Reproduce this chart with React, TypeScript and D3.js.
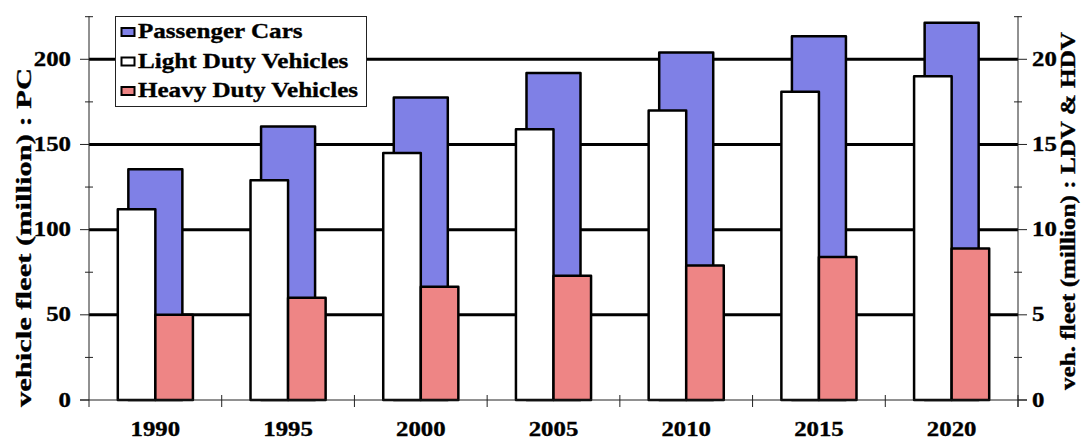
import React from 'react';
import * as d3 from 'd3';

const years = ['1990', '1995', '2000', '2005', '2010', '2015', '2020'];
const passengerCars = [135.5, 160.5, 177.5, 192, 204, 213.5, 221.5];
const lightDuty = [11.2, 12.9, 14.5, 15.9, 17, 18.1, 19];
const heavyDuty = [5, 6, 6.65, 7.3, 7.9, 8.4, 8.9];
const leftTicks = [0, 50, 100, 150, 200];
const leftMinor = [25, 75, 125, 175, 225];
const rightTicks = [0, 5, 10, 15, 20];
const rightMinor = [2.5, 7.5, 12.5, 17.5, 22.5];
const legendItems = ['Passenger Cars', 'Light Duty Vehicles', 'Heavy Duty Vehicles'];

const W = 1083, H = 439;
const X0 = 89, X1 = 1018, Y0 = 400, YT = 16.7;
const BLUE = '#7f80e6';
const RED = '#ee8585';
const FONT = "Liberation Serif, Times New Roman, serif";

export default function App() {
  const x = d3.scaleBand<string>().domain(years).range([X0, X1]).padding(0);
  const yL = d3.scaleLinear().domain([0, 225]).range([Y0, YT]);
  const yR = d3.scaleLinear().domain([0, 22.5]).range([Y0, YT]);
  const bw = x.bandwidth();
  const blueW = bw * 0.407;
  const subW = bw * 0.283;
  const colors = [BLUE, '#ffffff', RED];
  const ts: React.CSSProperties = { fontFamily: FONT, fontWeight: 700, stroke: '#000', strokeWidth: 0.35 };

  return (
    <svg width={W} height={H} style={{ position: 'absolute', left: 0, top: 0, background: '#fff' }}>
      <rect x={0} y={0} width={W} height={H} fill="#fff" />
      {leftTicks.filter(t => t > 0).map(t => (
        <line key={'g' + t} x1={X0} x2={X1} y1={yL(t)} y2={yL(t)} stroke="#000" strokeWidth={3} />
      ))}
      {years.map((yr, i) => {
        const cx = x(yr)! + bw / 2;
        return (
          <rect key={'pc' + yr} x={cx - blueW / 2} y={yL(passengerCars[i])} width={blueW}
            height={Y0 - yL(passengerCars[i])} fill={BLUE} stroke="#000" strokeWidth={2.5} strokeLinejoin="round" />
        );
      })}
      {years.map((yr, i) => {
        const cx = x(yr)! + bw / 2;
        return (
          <g key={'sec' + yr}>
            <rect x={cx - subW} y={yR(lightDuty[i])} width={subW} height={Y0 - yR(lightDuty[i])}
              fill="#fff" stroke="#000" strokeWidth={2.5} strokeLinejoin="round" />
            <rect x={cx} y={yR(heavyDuty[i])} width={subW} height={Y0 - yR(heavyDuty[i])}
              fill={RED} stroke="#000" strokeWidth={2.5} strokeLinejoin="round" />
          </g>
        );
      })}
      <line x1={X0} x2={X0} y1={YT - 0.5} y2={Y0 + 7} stroke="#222" strokeWidth={1} />
      <line x1={X1} x2={X1} y1={YT - 0.5} y2={Y0 + 7} stroke="#222" strokeWidth={1} />
      <line x1={X0 - 9} x2={X1 + 9} y1={Y0} y2={Y0} stroke="#222" strokeWidth={1} />
      {years.map((yr) => (
        <line key={'xt' + yr} x1={x(yr)! + bw} x2={x(yr)! + bw} y1={Y0 - 5} y2={Y0 + 7} stroke="#222" strokeWidth={1} />
      ))}
      {leftTicks.map(t => (
        <line key={'lt' + t} x1={X0 - 9} x2={X0} y1={yL(t)} y2={yL(t)} stroke="#222" strokeWidth={1} />
      ))}
      {leftMinor.map(t => (
        <line key={'lm' + t} x1={X0 - 4} x2={X0 + 4} y1={yL(t)} y2={yL(t)} stroke="#222" strokeWidth={1} />
      ))}
      {rightTicks.map(t => (
        <line key={'rt' + t} x1={X1} x2={X1 + 9} y1={yR(t)} y2={yR(t)} stroke="#222" strokeWidth={1} />
      ))}
      {rightMinor.map(t => (
        <line key={'rm' + t} x1={X1 - 4} x2={X1 + 4} y1={yR(t)} y2={yR(t)} stroke="#222" strokeWidth={1} />
      ))}
      {leftTicks.map(t => (
        <text key={'ll' + t} style={ts} transform={`translate(${71},${yL(t) + 6.5}) scale(1.24,1)`} textAnchor="end"
          fontSize={20}>{t}</text>
      ))}
      {rightTicks.map(t => (
        <text key={'rl' + t} style={ts} transform={`translate(${1032},${yR(t) + 6.5}) scale(1.24,1)`} textAnchor="start"
          fontSize={20}>{t}</text>
      ))}
      {years.map(yr => (
        <text key={'xl' + yr} style={ts} transform={`translate(${x(yr)! + bw / 2},${436}) scale(1.24,1)`} textAnchor="middle"
          fontSize={20}>{yr}</text>
      ))}
      <text style={ts} transform={`translate(${30.5},${237.5}) rotate(-90)`} textAnchor="middle" fontSize={22}
        textLength={339} lengthAdjust="spacingAndGlyphs">vehicle fleet (million) : PC</text>
      <text style={ts} transform={`translate(${1075},${211}) rotate(-90)`} textAnchor="middle" fontSize={22}
        textLength={358} lengthAdjust="spacingAndGlyphs">veh. fleet (million) : LDV &amp; HDV</text>
      <rect x={115.5} y={16.5} width={251} height={90} fill="#fff" stroke="#222" strokeWidth={1} />
      {legendItems.map((name, i) => {
        const cy = 32 + i * 29.5;
        return (
          <g key={'lg' + i}>
            <rect x={121.5} y={cy - 4} width={13} height={8} fill={colors[i]} stroke="#000" strokeWidth={2} />
            <text style={ts} transform={`translate(${138},${cy + 6}) scale(1.14,1)`} fontSize={22}>{name}</text>
          </g>
        );
      })}
    </svg>
  );
}
